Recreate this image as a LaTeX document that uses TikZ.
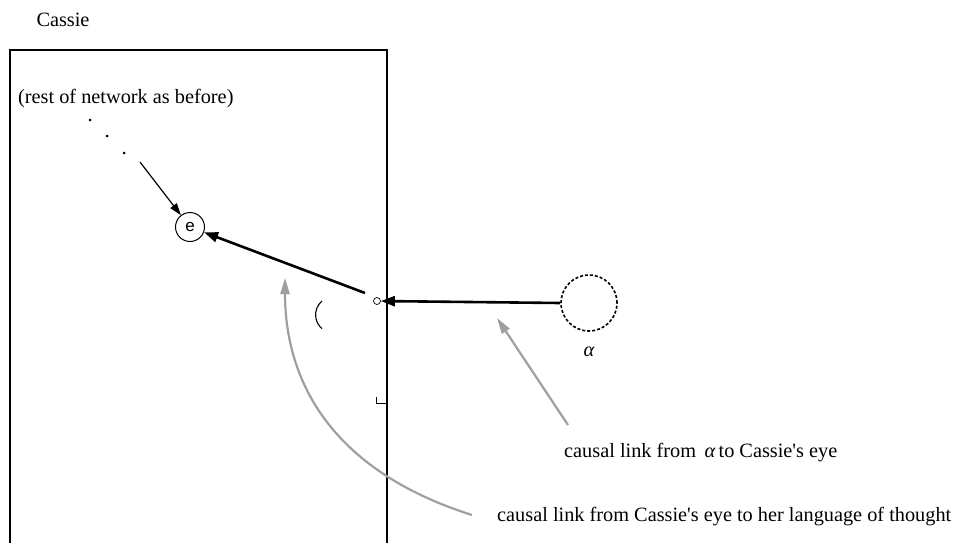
\documentclass[tikz,border=0pt]{standalone}
\usepackage{fontspec}
\setmainfont{Liberation Serif}
\newfontfamily\sansf{Liberation Sans}
\usetikzlibrary{arrows.meta}
\newcommand{\sq}{\textquotesingle}
\begin{document}
\begin{tikzpicture}[x=1pt,y=-1pt,
  lbl/.style={font=\fontsize{20.3}{22}\selectfont, inner sep=0pt},
  thick arr/.style={line width=2.6pt, -{Triangle[length=14pt,width=10pt]}},
  thin arr/.style={line width=1.2pt, -{Triangle[length=12pt,width=8pt]}},
  gray arr/.style={line width=2.2pt, draw=gray!75, -{Triangle[length=16pt,width=9pt]}}]
\useasboundingbox (0,0) rectangle (961,543);
\node[lbl] (cassie) at (63,20) {Cassie};
\draw[line width=1.2pt] (10,545) -- (10,50) -- (387,50) -- (387,545);
\node[lbl, anchor=west] (rest) at (18,99) {(rest of network as before)};
\fill (90,120) circle (1.5pt) (107,136) circle (1.5pt) (124,153) circle (1.5pt);
\coordinate (d3) at (140,162);
\node[draw, circle, line width=1pt, minimum size=29pt, inner sep=0pt, font=\sansf\fontsize{17}{18}\selectfont] (e) at (190,227) {e};
\draw[thin arr] (d3) -- (e);
\node[draw, circle, line width=0.7pt, minimum size=7pt, inner sep=0pt] (eye) at (377,301) {};
\coordinate (p1) at (365,293);
\draw[thick arr] (p1) -- (e);
\node[draw, circle, line width=1.6pt, dash pattern=on 3pt off 2pt, minimum size=56pt, inner sep=0pt] (alpha) at (589,303) {};
\node[lbl] (alab) at (589,352) {\itshape α};
\draw[thick arr] (alpha.west) -- (eye);
\node[lbl, anchor=west] (t1) at (564,453) {causal link from \,{\itshape α}\,to Cassie\sq s eye};
\node[lbl, anchor=west] (t2) at (497,517) {causal link from Cassie\sq s eye to her language of thought};
\coordinate (g1) at (568,425);
\coordinate (g1e) at (497,318);
\draw[gray arr] (g1) -- (g1e);
\coordinate (g2) at (472,515);
\coordinate (g2e) at (285,278);
\draw[gray arr] (g2) .. controls (330,470) and (285,380) .. (g2e);
\draw[line width=1.1pt] (322,301) arc[start angle=130, end angle=230, radius=18pt];
\draw[line width=1pt] (376,397) -- (376,403) -- (387,403);
\end{tikzpicture}
\end{document}
